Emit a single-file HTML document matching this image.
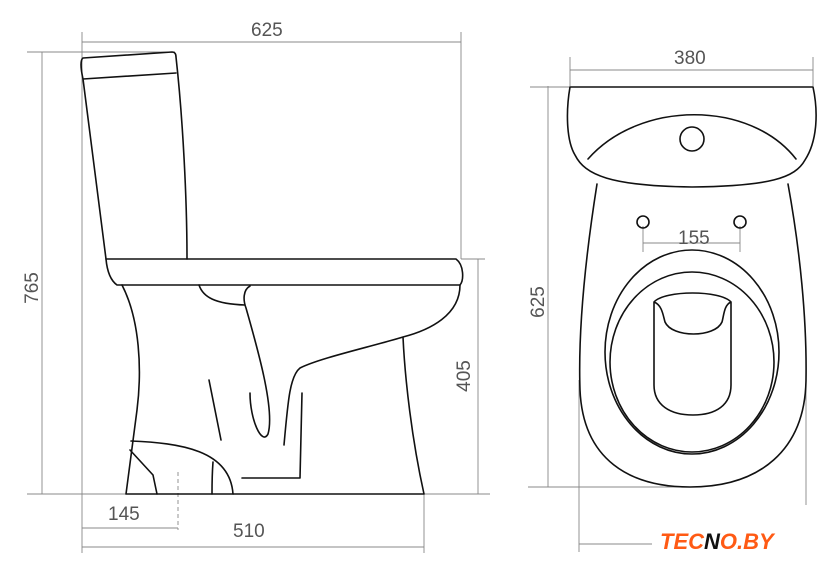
<!DOCTYPE html>
<html><head><style>
html,body{margin:0;padding:0;background:#fff}
svg{display:block}
.o{fill:none;stroke:#111;stroke-width:1.6;stroke-linecap:round;stroke-linejoin:round}
.d{fill:none;stroke:#888;stroke-width:0.9}
text{font-family:"Liberation Sans",sans-serif;font-size:19px;fill:#555}
</style></head><body>
<svg width="840" height="576" viewBox="0 0 840 576" xmlns="http://www.w3.org/2000/svg">
<!-- side view dims -->
<path class="d" d="M82,42H461 M82,32V553 M461,32V259 M27,52H175 M42,52V494 M27,494H490 M461,259H485 M478,259V494 M82,528H178 M82,547H424 M424,494V553"/>
<path class="d" d="M178,472V530" stroke-dasharray="4,3"/>
<text x="251" y="36">625</text>
<text x="108" y="520">145</text>
<text x="233" y="537">510</text>
<text transform="translate(38,288) rotate(-90)" text-anchor="middle">765</text>
<text transform="translate(470,376) rotate(-90)" text-anchor="middle">405</text>
<!-- side view toilet -->
<path class="o" d="M83,79 C81,70 80,60 83,58 L172,52 C175,52 176,54 176,57 L176,57 C183,120 187,200 187,259 M83,79 L176,73 M83,79 L106,259"/>
<path class="o" d="M106,259 H456 C464,265 464,280 460,285 H117 C110,280 107,270 106,259 Z"/>
<path class="o" d="M122,285 C140,320 142,370 137,410 L126,494 H424 C412,440 405,380 403,337 M460,285 C460,315 430,330 403,337 C370,347 320,358 300,368 C290,376 288,400 284,445"/>
<path class="o" d="M199,285 C203,297 215,304 245,305 M250,286 C243,290 243,300 246,308 C258,350 275,410 268,434 C262,446 250,420 250,393"/>
<path class="o" d="M209,380 L221,440 M302,393 L300,478 H242"/>
<path class="o" d="M131,441 C180,443 230,450 233,494 M130,450 L153,475 L157,494 M213,462 C212,475 212,485 212,494"/>
<!-- front view dims -->
<path class="d" d="M570,70H813 M570,57V86 M813,57V86 M530,87H570 M548,86V487 M528,487H690 M579,380V552 M806,380V505 M579,544H652 M643,226V252 M740,226V252 M643,243H740"/>
<text x="674" y="64">380</text>
<text x="678" y="244">155</text>
<text transform="translate(544,302) rotate(-90)" text-anchor="middle">625</text>
<!-- front view toilet -->
<path class="o" d="M570,87 H813 C818,110 818,140 805,160 C795,178 770,186 692,187 C610,186 585,175 575,155 C566,140 566,110 570,87 Z"/>
<path class="o" d="M588,159 C640,100 750,100 796,159"/>
<circle class="o" cx="692" cy="139" r="12"/>
<path class="o" d="M597,184 C585,260 578,330 580,390 C583,460 630,487 690,487 C760,487 805,450 806,380 C807,320 800,250 788,184"/>
<circle class="o" cx="643" cy="222" r="6"/>
<circle class="o" cx="740" cy="222" r="6"/>
<ellipse class="o" cx="692" cy="352" rx="87" ry="102"/>
<ellipse class="o" cx="692" cy="362" rx="82" ry="90"/>
<path class="o" d="M654,302 V385 C654,405 670,415 693,415 C716,415 731,405 731,385 V302 C720,290 665,290 654,302 Z M654,302 C662,305 663,315 665,322 C672,338 715,338 722,322 C724,315 724,305 731,302"/>
<!-- logo -->
<text x="660" y="549" style="font-family:'Liberation Sans',sans-serif;font-size:22px;font-weight:bold;font-style:italic;fill:#ff5a14;letter-spacing:0px">TEC<tspan fill="#111">N</tspan>O.BY</text>
</svg>
</body></html>
